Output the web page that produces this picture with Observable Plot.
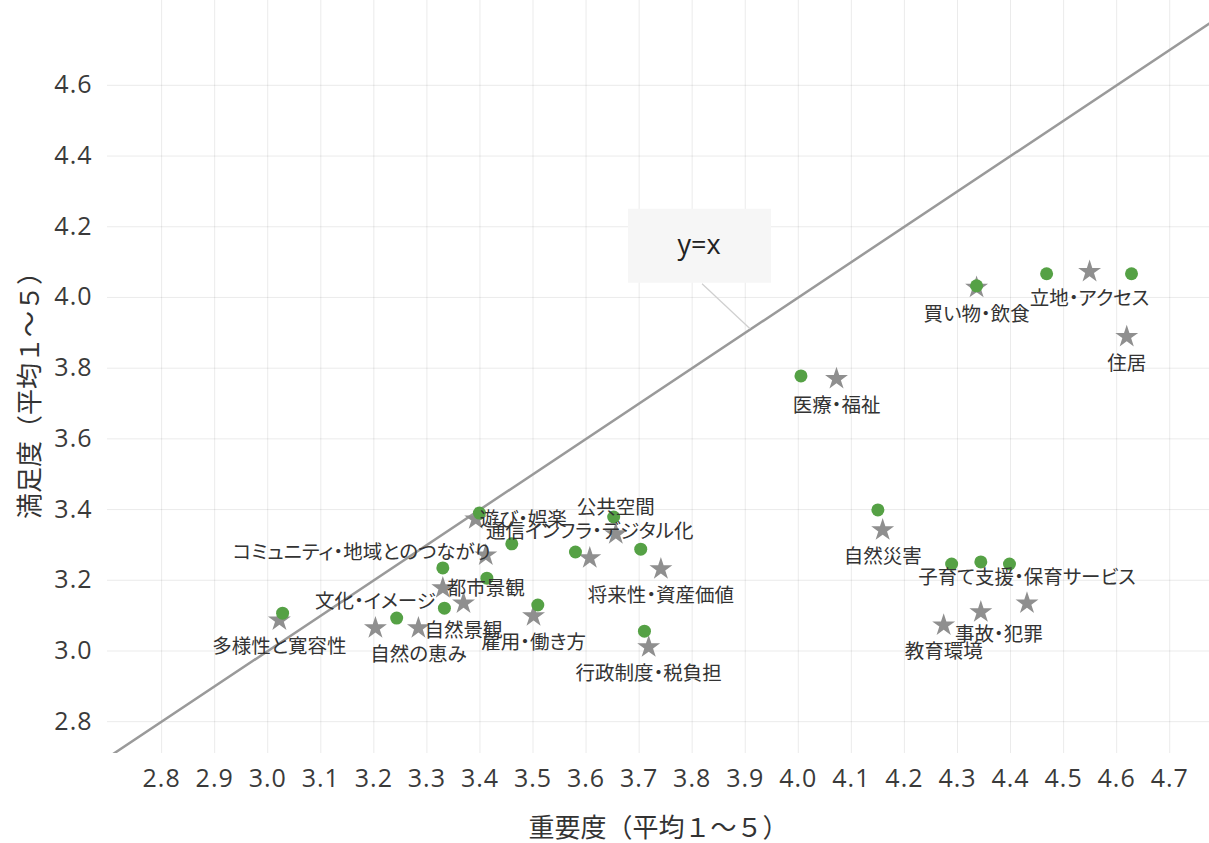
<!DOCTYPE html>
<html><head><meta charset="utf-8">
<script src="https://cdn.jsdelivr.net/npm/d3@7"></script>
<script src="https://cdn.jsdelivr.net/npm/@observablehq/plot@0.6"></script>
<style>
body{margin:0;background:#fff;}
svg text{font-feature-settings:"palt" 1;}
svg text.title{font-feature-settings:normal;}
</style>
</head><body><div id="chart"></div>
<script>
// ---- data ----
const categories = [
  "多様性と寛容性","自然の恵み","文化・イメージ","自然景観","都市景観",
  "コミュニティ・地域とのつながり","遊び・娯楽","通信インフラ・デジタル化","公共空間","将来性・資産価値",
  "雇用・働き方","行政制度・税負担","医療・福祉","自然災害","子育て支援・保育サービス",
  "事故・犯罪","教育環境","買い物・飲食","立地・アクセス","住居"
];
// series A (green circles)
const importanceA   = [3.028,3.243,3.333,3.460,3.413,3.330,3.399,3.580,3.652,3.703,3.509,3.710,4.005,4.150,4.398,4.344,4.289,4.336,4.468,4.628];
const satisfactionA = [3.107,3.093,3.121,3.303,3.206,3.235,3.390,3.280,3.379,3.288,3.130,3.056,3.778,3.399,3.246,3.252,3.246,4.033,4.067,4.067];
// series B (grey stars)
const importanceB   = [3.022,3.284,3.203,3.369,3.330,3.411,3.392,3.607,3.656,3.741,3.501,3.718,4.072,4.159,4.431,4.344,4.274,4.336,4.549,4.619];
const satisfactionB = [3.087,3.065,3.065,3.135,3.178,3.271,3.373,3.263,3.331,3.232,3.099,3.011,3.770,3.342,3.135,3.110,3.073,4.028,4.073,3.889];
// where each mark label sits relative to its star
const labelPlacement = ["below","below","above","below","right","left","right","above","above","below",
  "below","below","below","below","above","below-right","below","below","below","below"];
const xTicks = [2.8,2.9,3.0,3.1,3.2,3.3,3.4,3.5,3.6,3.7,3.8,3.9,4.0,4.1,4.2,4.3,4.4,4.5,4.6,4.7];
const yTicks = [2.8,3.0,3.2,3.4,3.6,3.8,4.0,4.2,4.4,4.6];
const diagonalExtent = [2.6, 4.9];
const annotationText = "y=x";
const annotationAt = 3.91;
const xTitle = "重要度（平均１～５）";
const yTitle = "満足度（平均１～５）";

// ---- build ----
const rows = categories.map((c,i)=>({cat:c, xa:importanceA[i], ya:satisfactionA[i], xb:importanceB[i], yb:satisfactionB[i], pos:labelPlacement[i]}));
const diag = diagonalExtent.map(v=>({v}));
const placements = {
  "below":{dx:0,dy:27,textAnchor:"middle"},
  "above":{dx:0,dy:-26,textAnchor:"middle"},
  "left":{dx:5,dy:-2,textAnchor:"end"},
  "right":{dx:4,dy:1,textAnchor:"start"},
  "below-right":{dx:18,dy:23,textAnchor:"middle"}
};
const FONT = "'Noto Sans CJK JP', 'Noto Sans', sans-serif";
const labelMarks = Object.entries(placements).map(([k,o])=>
  Plot.text(rows.filter(d=>d.pos===k), {x:"xb", y:"yb", text:"cat", fontSize:19.5, fill:"#333", ...o}));

const chart = Plot.plot({
  width:1209, height:843,
  marginLeft:107, marginRight:0, marginTop:0, marginBottom:90,
  style:{fontFamily:FONT, fontSize:"16px", color:"#3a3a3a", background:"#fff"},
  x:{domain:[2.698,4.775], ticks:xTicks, tickSize:0, tickPadding:16, tickFormat:d3.format(".1f"), label:null, grid:true},
  y:{domain:[2.71,4.84], ticks:yTicks, tickSize:0, tickPadding:15, tickFormat:d3.format(".1f"), label:null, grid:true},
  marks:[
    Plot.line(diag, {x:"v", y:"v", stroke:"#9a9a9a", strokeWidth:2.5, clip:true}),
    Plot.dot(rows, {x:"xb", y:"yb", symbol:"star", r:7.2, fill:"#8f8f8f", stroke:"none"}),
    Plot.dot(rows, {x:"xa", y:"ya", r:6.5, fill:"#55a145", stroke:"none"}),
    ...labelMarks,
    Plot.text([yTitle], {frameAnchor:"left", rotate:-90, textAnchor:"middle", lineAnchor:"middle", dx:-77, dy:12, fontSize:26, fill:"#333", className:"title"}),
    Plot.text([xTitle], {frameAnchor:"bottom", textAnchor:"middle", lineAnchor:"middle", dy:75, fontSize:26, fill:"#333", className:"title"})
  ]
});
document.getElementById("chart").appendChild(chart);

// title text elements: no proportional alternates (full-width brackets like the reference)
d3.select(chart).selectAll(".title text").classed("title", true);

// style tick labels (wider digits with spacing, like the reference)
d3.select(chart).selectAll("g[aria-label='x-axis tick label'], g[aria-label='y-axis tick label'], g[aria-label='x-axis'], g[aria-label='y-axis']")
  .attr("font-family","'Open Sans', sans-serif").attr("font-size",25).attr("letter-spacing","1px");

// annotation box anchored on the y=x line through the plot's own scales
const sx = chart.scale("x"), sy = chart.scale("y");
const ax = sx.apply(annotationAt), ay = sy.apply(annotationAt);
const svg = d3.select(chart);
const g = svg.append("g");
g.append("line").attr("x1",ax-48).attr("y1",ay-45).attr("x2",ax).attr("y2",ay).attr("stroke","#cfcfcf").attr("stroke-width",1.2);
g.append("rect").attr("x",ax-122).attr("y",ay-120).attr("width",143).attr("height",74).attr("fill","#f6f6f6");
g.append("text").attr("x",ax-51).attr("y",ay-82).attr("text-anchor","middle").attr("dominant-baseline","middle")
  .attr("font-size",27).attr("fill","#222").attr("font-family","'Open Sans', sans-serif").text(annotationText);
</script>
</body></html>
